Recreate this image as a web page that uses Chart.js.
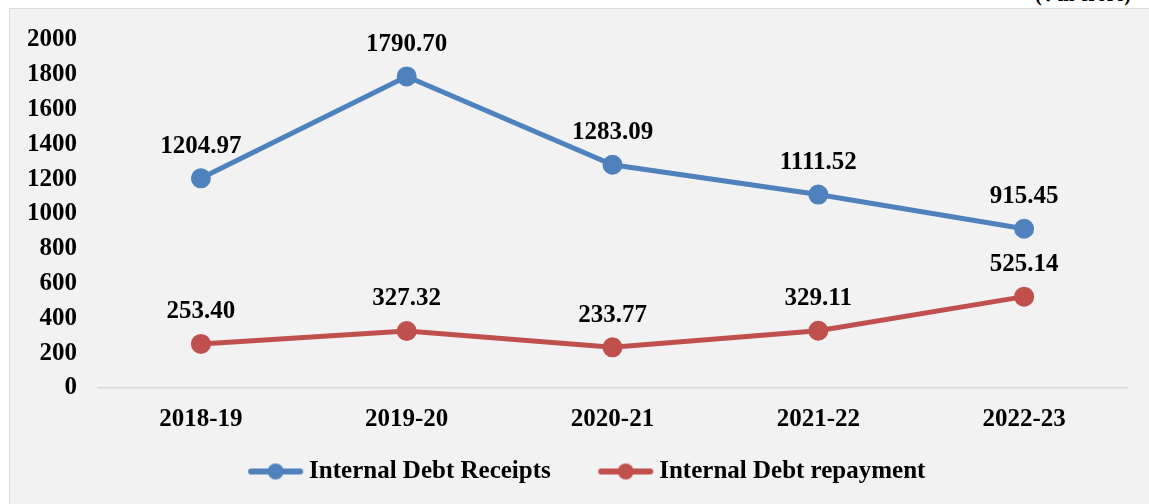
<!DOCTYPE html>
<html>
<head>
<meta charset="utf-8">
<script src="https://cdn.jsdelivr.net/npm/chart.js@4.4.0/dist/chart.umd.min.js"></script>
<style>
  html, body { margin: 0; padding: 0; background: #ffffff; overflow: hidden; }
  #wrap { position: relative; width: 1149px; height: 504px; overflow: hidden; }
  #panel { position: absolute; left: 9px; top: 8px; width: 1160px; height: 520px;
           background: #f2f2f2; border: 1px solid #d9d9d9; }
  #unit { position: absolute; left: 1035px; top: -20px; font: bold 20px "Liberation Serif", serif; color: #000; }
  #chartBox { position: absolute; left: 0; top: 0; width: 1149px; height: 504px; }
</style>
</head>
<body>
<div id="wrap">
  <div id="unit">(₹ in crore)</div>
  <div id="panel"></div>
  <div id="chartBox"><canvas id="debtChart"></canvas></div>
</div>
<script>
// Anos e valores (₹ crore)
const years = ["2018-19", "2019-20", "2020-21", "2021-22", "2022-23"];
const receipts = [1204.97, 1790.70, 1283.09, 1111.52, 915.45];
const repayment = [253.40, 327.32, 233.77, 329.11, 525.14];
const yTicksMax = 2000;
const yTicksStep = 200;

const blue = "#4f81bd";
const red = "#c0504d";
const font = "Liberation Serif";
const fontSize = 25;

// icone da legenda: linha com bolinha, com margem transparente à esquerda
function legendIcon(color) {
    const c = document.createElement("canvas");
    c.width = 104;
    c.height = 20;
    const g = c.getContext("2d");
    g.strokeStyle = color;
    g.lineWidth = 6;
    g.lineCap = "round";
    g.beginPath();
    g.moveTo(51, 10);
    g.lineTo(100, 10);
    g.stroke();
    g.fillStyle = color;
    g.beginPath();
    g.arc(75.5, 10, 8, 0, Math.PI * 2);
    g.fill();
    return c;
}
const icons = [legendIcon(blue), legendIcon(red)];

// rótulos de valor acima dos pontos
const valueLabels = {
    id: "valueLabels",
    afterDatasetsDraw(chart) {
        const ctx = chart.ctx;
        ctx.save();
        ctx.font = "bold " + fontSize + "px " + font;
        ctx.fillStyle = "#000";
        ctx.textAlign = "center";
        ctx.textBaseline = "middle";
        chart.data.datasets.forEach((ds, i) => {
            chart.getDatasetMeta(i).data.forEach((pt, j) => {
                ctx.fillText(ds.data[j].toFixed(2), pt.x, pt.y - 32);
            });
        });
        ctx.restore();
    }
};

const ctx = document.getElementById("debtChart").getContext("2d");
new Chart(ctx, {
    type: "line",
    data: {
        labels: years,
        datasets: [
            {
                label: "Internal Debt Receipts",
                data: receipts,
                borderColor: blue,
                backgroundColor: blue,
                borderWidth: 5,
                pointRadius: 7.5,
                pointHoverRadius: 7.5,
                tension: 0,
            },
            {
                label: "Internal Debt repayment",
                data: repayment,
                borderColor: red,
                backgroundColor: red,
                borderWidth: 5,
                pointRadius: 7.5,
                pointHoverRadius: 7.5,
                tension: 0,
            },
        ],
    },
    options: {
        responsive: true,
        maintainAspectRatio: false,
        animation: false,
        layout: { padding: { left: 6, right: 22, top: 40, bottom: 10 } },
        plugins: {
            legend: {
                position: "bottom",
                labels: {
                    usePointStyle: true,
                    pointStyleWidth: 89,
                    padding: 7,
                    color: "#000",
                    font: { family: font, size: fontSize, weight: "bold" },
                    generateLabels: (chart) => {
                        const items = Chart.defaults.plugins.legend.labels.generateLabels(chart);
                        items.forEach((it, i) => { it.pointStyle = icons[i]; });
                        return items;
                    },
                },
            },
            tooltip: { enabled: false },
        },
        scales: {
            x: {
                offset: true,
                grid: { display: false, drawTicks: false },
                border: { display: true, color: "#d9d9d9", width: 1.5 },
                ticks: {
                    color: "#000",
                    padding: 17,
                    font: { family: font, size: fontSize, weight: "bold" },
                },
            },
            y: {
                min: 0,
                max: yTicksMax,
                grid: { display: false, drawTicks: false },
                border: { display: false },
                ticks: {
                    stepSize: yTicksStep,
                    color: "#000",
                    padding: 21,
                    font: { family: font, size: fontSize, weight: "bold" },
                    callback: (v) => String(v),
                },
            },
        },
    },
    plugins: [valueLabels],
});
</script>
</body>
</html>
